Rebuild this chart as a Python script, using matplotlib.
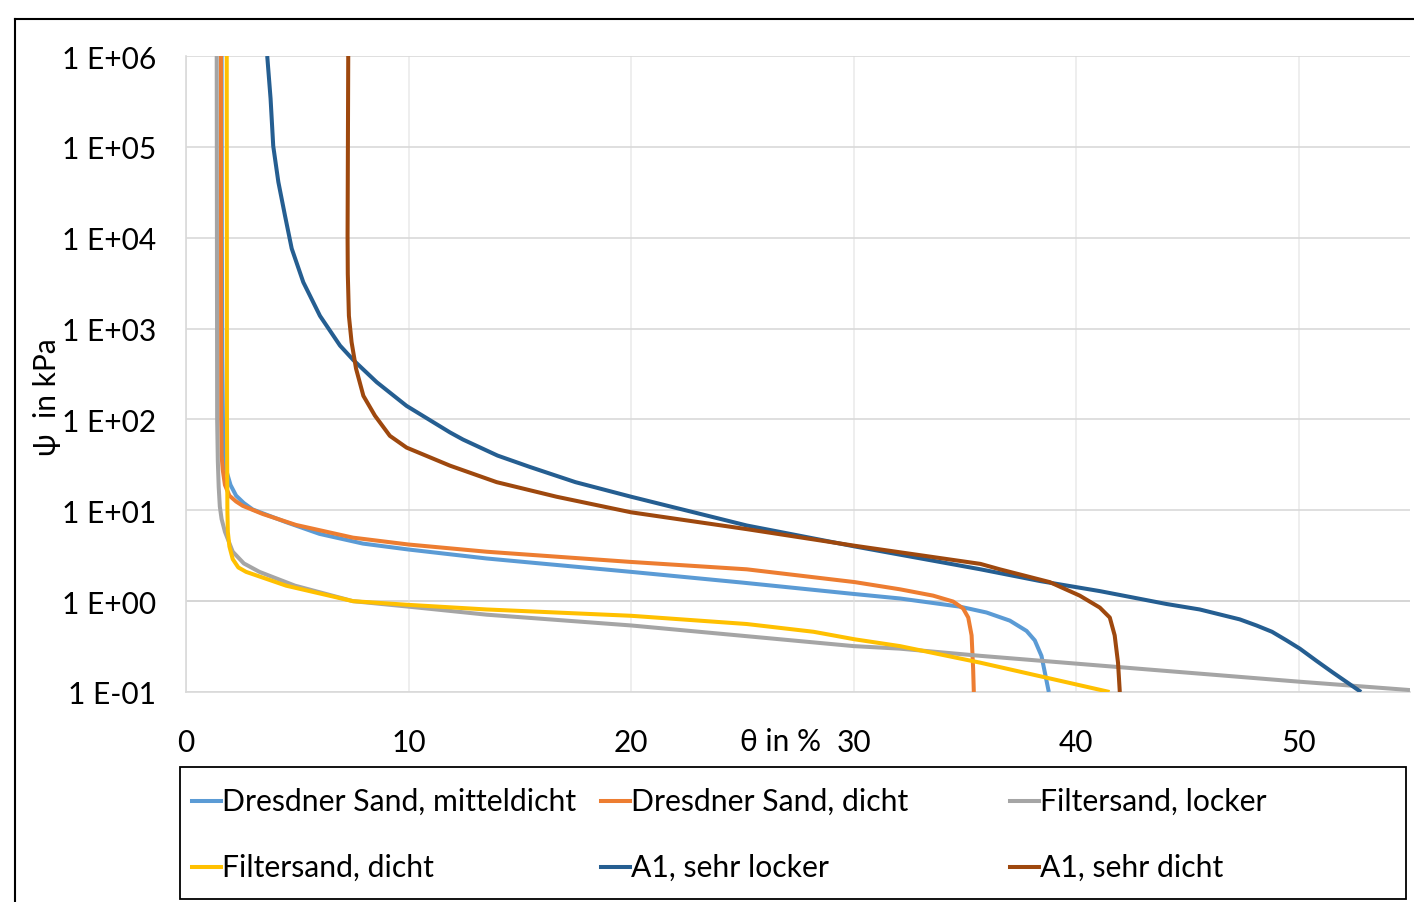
import numpy as np
import matplotlib
matplotlib.use("Agg")
import matplotlib.pyplot as plt
from matplotlib.lines import Line2D
from matplotlib.patches import Rectangle
from matplotlib.ticker import FixedLocator, FuncFormatter

plt.rcParams['font.family'] = ['Lato', 'DejaVu Sans']

# ---------------- data (theta in %, psi in kPa) ----------------
labels = ["Dresdner Sand, mitteldicht", "Dresdner Sand, dicht", "Filtersand, locker",
          "Filtersand, dicht", "A1, sehr locker", "A1, sehr dicht"]
colors = ["#5B9BD5", "#ED7D31", "#A5A5A5", "#FFC000", "#255E91", "#9E480E"]

ds_md_theta = [1.60, 1.61, 1.63, 1.66, 1.72, 1.80, 2.00, 2.25, 2.60, 3.0, 4.5, 6.0, 7.95, 10.0, 13.5,
               20.0, 25.0, 30.0, 32.08, 34.77, 35.97, 37.02, 37.77, 38.14, 38.44, 38.59, 38.77]
ds_md_psi = [1e6, 1e4, 500, 100, 50, 28, 19, 14.5, 12, 10.2, 7.4, 5.5, 4.3, 3.7, 2.95,
             2.1, 1.6, 1.2, 1.07, 0.87, 0.75, 0.61, 0.47, 0.37, 0.25, 0.165, 0.1]

ds_d_theta = [1.57, 1.58, 1.60, 1.65, 1.75, 1.95, 2.25, 2.55, 3.45, 4.94, 7.5, 10.0, 13.5, 20.0,
              25.2, 30.05, 32.08, 33.57, 34.47, 34.92, 35.15, 35.3, 35.37, 35.4]
ds_d_psi = [1e6, 100, 40, 28, 19, 14.5, 12.5, 11.2, 9.1, 6.9, 5.0, 4.2, 3.5, 2.7,
            2.24, 1.62, 1.35, 1.15, 0.99, 0.83, 0.66, 0.42, 0.18, 0.1]

fs_l_theta = [1.38, 1.40, 1.43, 1.47, 1.52, 1.6, 1.75, 2.1, 2.6, 3.3, 4.9, 7.5, 10.0, 13.5,
              20.0, 30.0, 32.08, 35.7, 42.86, 50.0, 55.0]
fs_l_psi = [1e6, 100, 35, 18, 11, 8.0, 5.8, 3.5, 2.6, 2.1, 1.48, 1.0, 0.87, 0.71,
            0.54, 0.32, 0.30, 0.25, 0.18, 0.13, 0.105]

fs_d_theta = [1.83, 1.84, 1.86, 1.88, 1.95, 2.1, 2.35, 2.7, 4.5, 7.5, 10.0, 13.5, 20.0,
              25.2, 28.2, 30.05, 32.08, 35.7, 41.5]
fs_d_psi = [1e6, 100, 10, 5.8, 4.0, 2.9, 2.35, 2.1, 1.48, 1.0, 0.91, 0.81, 0.69,
            0.56, 0.46, 0.38, 0.32, 0.21, 0.1]

a1_l_theta = [3.65, 3.80, 3.92, 4.15, 4.45, 4.75, 5.27, 6.02, 6.92, 7.52, 8.57, 9.91, 11.86,
              12.45, 14.0, 15.45, 17.5, 20.0, 25.2, 30.05, 35.7, 38.4, 41.06, 44.06, 45.55, 47.35,
              48.1, 48.8, 49.45, 50.05, 50.8, 51.5, 52.8]
a1_l_psi = [1e6, 3.4e5, 1.02e5, 4.1e4, 1.74e4, 7600, 3240, 1380, 650, 450, 257, 141, 72,
            60, 40, 30, 20.4, 14.1, 6.8, 4.0, 2.24, 1.66, 1.29, 0.93, 0.81, 0.63,
            0.54, 0.46, 0.37, 0.30, 0.22, 0.166, 0.1]

a1_d_theta = [7.29, 7.26, 7.27, 7.32, 7.44, 7.64, 7.97, 8.49, 9.16, 9.91, 11.86, 13.96, 16.65,
              20.0, 25.2, 30.05, 35.7, 36.57, 38.81, 40.16, 41.06, 41.51, 41.73, 41.88, 41.96]
a1_d_psi = [1e6, 1.05e4, 4000, 1380, 710, 363, 182, 110, 66, 49, 31, 20.4, 14.1,
            9.5, 6.2, 4.07, 2.57, 2.24, 1.62, 1.15, 0.85, 0.66, 0.42, 0.21, 0.1]

series_theta = [ds_md_theta, ds_d_theta, fs_l_theta, fs_d_theta, a1_l_theta, a1_d_theta]
series_psi = [ds_md_psi, ds_d_psi, fs_l_psi, fs_d_psi, a1_l_psi, a1_d_psi]

x_ticks = [0, 10, 20, 30, 40, 50]
y_ticks = [1e-1, 1e0, 1e1, 1e2, 1e3, 1e4, 1e5, 1e6]

# ---------------- figure ----------------
W, H = 1414, 903
fig = plt.figure(figsize=(W / 100, H / 100), dpi=100)
ax = fig.add_axes([186 / W, (H - 693) / H, (1410 - 186) / W, (693 - 57) / H])

ax.set_yscale('log')
ax.set_xlim(0, 55)
ax.set_ylim(0.1, 1e6)

for t, p, c in zip(series_theta, series_psi, colors):
    ax.plot(t, p, color=c, lw=2.9, solid_joinstyle='round', solid_capstyle='butt', zorder=3)

ax.xaxis.set_major_locator(FixedLocator(x_ticks))
ax.yaxis.set_major_locator(FixedLocator(y_ticks))
ax.yaxis.set_minor_locator(FixedLocator([]))
ax.yaxis.set_major_formatter(FuncFormatter(lambda v, pos: "1 E%+03d" % int(round(np.log10(v)))))
ax.tick_params(axis='both', length=0, labelsize=21.5, colors='black')
ax.tick_params(axis='y', pad=21.6)
ax.tick_params(axis='x', pad=26)

ax.grid(axis='y', color='#D9D9D9', lw=1.2, zorder=0)
ax.grid(axis='x', color='#EBEBEB', lw=1.2, zorder=0)
ax.axhline(1.0, color='#C8C8C8', lw=1.3, zorder=1)
for s in ['top', 'right']:
    ax.spines[s].set_visible(False)
ax.spines['left'].set_color('#D9D9D9')
ax.spines['bottom'].set_color('#D9D9D9')
ax.spines['left'].set_linewidth(1.2)
ax.spines['bottom'].set_linewidth(1.2)

# axis titles
fig.text(781 / W, 1 - 742 / H, "θ in %", ha='center', va='center', fontsize=21.5)
fig.text(47 / W, 1 - 397 / H, "ψ  in kPa", ha='center', va='center', rotation=90, fontsize=21.5)

# outer frame (top and left edges)
fig.add_artist(Line2D([15 / W, 1413 / W], [1 - 20 / H, 1 - 20 / H], color='black', lw=1.5))
fig.add_artist(Line2D([15 / W, 15 / W], [1 - 20 / H, 0], color='black', lw=1.5))

# legend box
fig.add_artist(Rectangle((180 / W, 1 - 900 / H), (1406 - 180) / W, (900 - 768) / H,
                         transform=fig.transFigure, fill=False, edgecolor='black', lw=1.3))
col_x = [192, 601, 1010]
row_y = [802, 868]
for i, (lab, c) in enumerate(zip(labels, colors)):
    r, k = divmod(i, 3)
    x0 = col_x[k]
    y0 = 1 - row_y[r] / H
    fig.add_artist(Line2D([x0 / W, (x0 + 29) / W], [y0, y0], color=c, lw=2.9))
    fig.text((x0 + 30) / W, y0, lab, ha='left', va='center', fontsize=21.7)

fig.savefig("out.png", dpi=100)
